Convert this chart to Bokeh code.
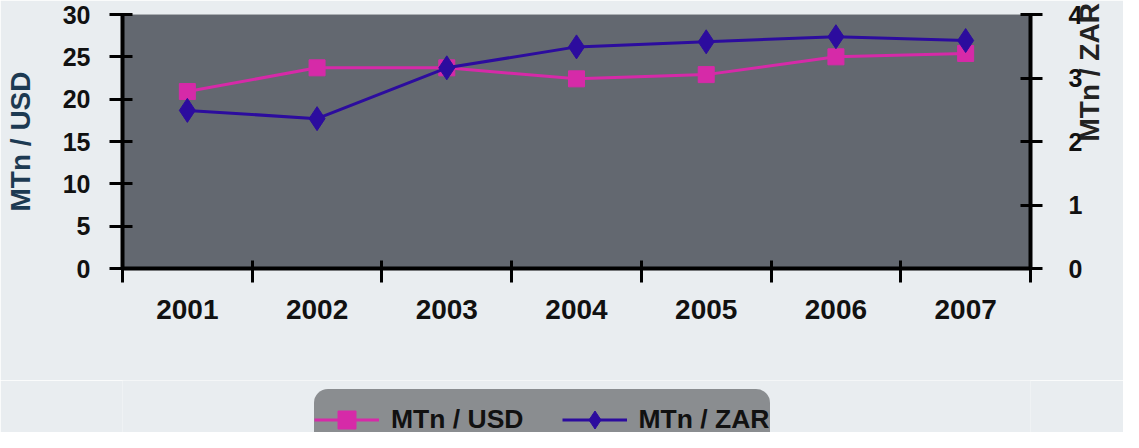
import math
from bokeh.plotting import figure
from bokeh.layouts import column
from bokeh.models import Range1d, LinearAxis, FixedTicker, Legend, LegendItem
from bokeh.embed import file_html
from bokeh.resources import INLINE

years = ["2001", "2002", "2003", "2004", "2005", "2006", "2007"]
usd = [20.9, 23.7, 23.7, 22.4, 22.9, 25.0, 25.4]
zar = [2.49, 2.36, 3.16, 3.49, 3.57, 3.65, 3.59]
usd_ticks = [0, 5, 10, 15, 20, 25, 30]
zar_ticks = [0, 1, 2, 3, 4]

BG = "#e9edf0"
PLOT_BG = "#636870"
C_USD = "#d62aa8"
C_ZAR = "#2c0c9e"
FONT = "Liberation Sans"

xs = [i + 0.5 for i in range(len(years))]

p = figure(width=1123, height=380, output_backend="svg", toolbar_location=None,
           x_range=Range1d(0, len(years)), y_range=Range1d(0, 30),
           min_border_left=122, min_border_right=88, min_border_top=14, min_border_bottom=112)
p.background_fill_color = PLOT_BG
p.border_fill_color = BG
p.outline_line_color = None
p.xgrid.visible = False
p.ygrid.visible = False
p.extra_y_ranges = {"zar": Range1d(0, 4)}

# left axis
ya = p.yaxis[0]
ya.ticker = FixedTicker(ticks=usd_ticks, minor_ticks=[])
ya.axis_label = "MTn / USD"
ya.axis_label_text_font = FONT
ya.axis_label_text_font_style = "bold"
ya.axis_label_text_font_size = "28px"
ya.axis_label_text_color = "#1d3a52"
ya.axis_label_standoff = 24
ya.major_label_text_font = FONT
ya.major_label_text_font_style = "bold"
ya.major_label_text_font_size = "25px"
ya.major_label_text_color = "#111111"
ya.major_label_standoff = 19
ya.axis_line_width = 4
ya.axis_line_color = "black"
ya.major_tick_line_width = 3
ya.major_tick_line_color = "black"
ya.major_tick_in = 10
ya.major_tick_out = 13
ya.minor_tick_line_color = None

# bottom axis
xa = p.xaxis[0]
xa.ticker = FixedTicker(ticks=xs, minor_ticks=list(range(len(years) + 1)))
xa.major_label_overrides = {x: y for x, y in zip(xs, years)}
xa.major_label_text_font = FONT
xa.major_label_text_font_style = "bold"
xa.major_label_text_font_size = "28px"
xa.major_label_text_color = "#111111"
xa.major_label_standoff = 17
xa.axis_line_width = 4
xa.axis_line_color = "black"
xa.major_tick_in = 0
xa.major_tick_out = 0
xa.minor_tick_line_width = 3
xa.minor_tick_line_color = "black"
xa.minor_tick_in = 8
xa.minor_tick_out = 14

# right axis
ra = LinearAxis(y_range_name="zar", ticker=FixedTicker(ticks=zar_ticks, minor_ticks=[]))
ra.axis_label = "MTn / ZAR"
ra.axis_label_text_font = FONT
ra.axis_label_text_font_style = "bold"
ra.axis_label_text_font_size = "28px"
ra.axis_label_text_color = "#222222"
ra.axis_label_standoff = 4
ra.axis_label_orientation = math.pi / 2
ra.axis_label_text_align = "center"
ra.major_label_text_font = FONT
ra.major_label_text_font_style = "bold"
ra.major_label_text_font_size = "25px"
ra.major_label_text_color = "#111111"
ra.major_label_standoff = 26
ra.axis_line_width = 4
ra.axis_line_color = "black"
ra.major_tick_line_width = 3
ra.major_tick_line_color = "black"
ra.major_tick_in = 10
ra.major_tick_out = 12
ra.minor_tick_line_color = None
p.add_layout(ra, "right")

p.line(xs, usd, line_color=C_USD, line_width=3)
p.scatter(xs, usd, marker="square", size=16, fill_color=C_USD, line_color=C_USD)
p.line(xs, zar, line_color=C_ZAR, line_width=3, y_range_name="zar")
p.scatter(xs, zar, marker="diamond", size=24, fill_color=C_ZAR, line_color=C_ZAR, y_range_name="zar")

# legend strip (its renderers hold the same series; they lie outside the strip's visible range)
q = figure(width=1123, height=52, output_backend="svg", toolbar_location=None,
           x_range=Range1d(-2, -1), y_range=Range1d(-2, -1),
           min_border_left=0, min_border_right=0, min_border_top=0, min_border_bottom=0,
           x_axis_type=None, y_axis_type=None)
q.background_fill_color = BG
q.border_fill_color = BG
q.outline_line_color = None
q.xgrid.visible = False
q.ygrid.visible = False
ql1 = q.line(xs, usd, line_color=C_USD, line_width=3)
qs1 = q.scatter(xs, usd, marker="square", size=18, fill_color=C_USD, line_color=C_USD)
ql2 = q.line(xs, zar, line_color=C_ZAR, line_width=3)
qs2 = q.scatter(xs, zar, marker="diamond", size=24, fill_color=C_ZAR, line_color=C_ZAR)

legend = Legend(items=[LegendItem(label="MTn / USD", renderers=[ql1, qs1]),
                       LegendItem(label="MTn / ZAR", renderers=[ql2, qs2])],
                orientation="horizontal", location=(192, -17))
legend.background_fill_color = "#8a8d90"
legend.background_fill_alpha = 1
legend.border_line_color = None
legend.label_text_font = FONT
legend.label_text_font_style = "bold"
legend.label_text_font_size = "26.5px"
legend.label_text_color = "#111111"
legend.glyph_width = 65
legend.glyph_height = 45
legend.label_height = 60
legend.label_standoff = 12
legend.spacing = 38
legend.padding = 13
legend.margin = 0
try:
    legend.border_radius = 14
except Exception:
    pass
q.add_layout(legend, "center")

layout = column(p, q, spacing=0)
html = file_html(layout, INLINE)
html = html.replace("<body>", '<body style="background-color:%s">' % BG, 1)
open("out.html", "w").write(html)
